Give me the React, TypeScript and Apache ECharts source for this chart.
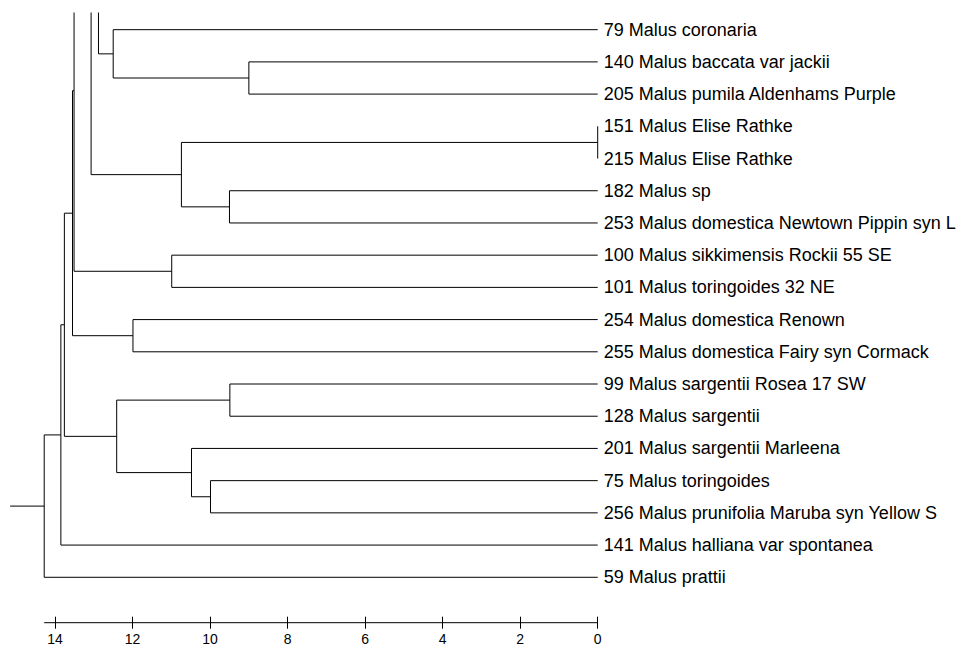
import React, { useEffect, useRef } from "react";
import * as echarts from "echarts";

const leafNames = [
  "79 Malus coronaria",
  "140 Malus baccata var jackii",
  "205 Malus pumila Aldenhams Purple",
  "151 Malus Elise Rathke",
  "215 Malus Elise Rathke",
  "182 Malus sp",
  "253 Malus domestica Newtown Pippin syn L",
  "100 Malus sikkimensis Rockii 55 SE",
  "101 Malus toringoides 32 NE",
  "254 Malus domestica Renown",
  "255 Malus domestica Fairy syn Cormack",
  "99 Malus sargentii Rosea 17 SW",
  "128 Malus sargentii",
  "201 Malus sargentii Marleena",
  "75 Malus toringoides",
  "256 Malus prunifolia Maruba syn Yellow S",
  "141 Malus halliana var spontanea",
  "59 Malus prattii",
];

// Branch of the tree lying above the visible crop (row position in leaf units, height)
const outsideRow = [-24.6];
const outsideHeight = [12.2];

// Merges: L<k> = leaf k, M<k> = merge k, U<k> = outside branch k
const mergeLeft = ["L1", "L0", "U0", "L3", "L5", "M3", "M2", "L7", "M6", "L9", "M8", "L11", "L14", "L13", "M11", "M10", "M15", "M16"];
const mergeRight = ["L2", "M0", "M1", "L4", "L6", "M4", "M5", "L8", "M7", "L10", "M9", "L12", "L15", "M12", "M13", "M14", "L16", "L17"];
const mergeHeight = [9.0, 12.5, 12.88, 0, 9.5, 10.74, 13.07, 10.99, 13.51, 11.99, 13.55, 9.49, 9.99, 10.48, 12.41, 13.76, 13.85, 14.28];

const tickMax = 14;
const tickStep = 2;

// layout (pixels / leaf rows)
const PX_PER_UNIT = 38.76;
const ZERO_X = 597.7;
const X_MAX = 15.16;
const Y_MIN = -0.518;
const Y_MAX = 18.41;
const FONT = "'Liberation Sans', Arial, Helvetica, sans-serif";

type Node = { row: number; h: number };

function buildSeries() {
  const nodes: Node[] = [];
  const resolve = (id: string): Node => {
    const kind = id[0];
    const k = Number(id.slice(1));
    if (kind === "L") return { row: k, h: 0 };
    if (kind === "U") return { row: outsideRow[k], h: outsideHeight[k] };
    return nodes[k];
  };
  const lineStyle = { color: "#000", width: 1 };
  const series: any[] = [];
  mergeHeight.forEach((h, k) => {
    const a = resolve(mergeLeft[k]);
    const b = resolve(mergeRight[k]);
    nodes.push({ row: (a.row + b.row) / 2, h });
    series.push({
      type: "line",
      xAxisIndex: 0,
      yAxisIndex: 0,
      data: [
        [a.h, a.row],
        [h, a.row],
        [h, b.row],
        [b.h, b.row],
      ],
      symbol: "none",
      lineStyle,
      silent: true,
      clip: true,
    });
  });
  const root = nodes[nodes.length - 1];
  series.push({
    type: "line",
    xAxisIndex: 0,
    yAxisIndex: 0,
    data: [
      [root.h, root.row],
      [X_MAX, root.row],
    ],
    symbol: "none",
    lineStyle,
    silent: true,
  });
  // axis line spanning 0 .. root height
  series.push({
    type: "line",
    xAxisIndex: 0,
    yAxisIndex: 0,
    data: [
      [0, Y_MAX],
      [root.h, Y_MAX],
    ],
    symbol: "none",
    lineStyle,
    silent: true,
    clip: false,
  });
  return series;
}

export default function App() {
  const ref = useRef<HTMLDivElement>(null);
  useEffect(() => {
    if (!ref.current) return;
    const chart = echarts.init(ref.current, undefined, { renderer: "svg" });
    const gridTop = 13;
    const gridBottom = 26.3;
    const gridRight = 963 - ZERO_X;
    chart.setOption({
      animation: false,
      backgroundColor: "#fff",
      grid: [
        { left: ZERO_X - X_MAX * PX_PER_UNIT, right: gridRight, top: gridTop, bottom: gridBottom },
        { left: ZERO_X - tickMax * PX_PER_UNIT, right: gridRight, top: 600, bottom: gridBottom },
      ],
      xAxis: [
        {
          type: "value",
          gridIndex: 0,
          min: 0,
          max: X_MAX,
          inverse: true,
          show: false,
          splitLine: { show: false },
        },
        {
          type: "value",
          gridIndex: 1,
          min: 0,
          max: tickMax,
          interval: tickStep,
          inverse: true,
          position: "bottom",
          offset: -6,
          axisLine: { show: false },
          splitLine: { show: false },
          axisTick: {
            show: true,
            length: 12,
            inside: false,
            lineStyle: { color: "#000", width: 1 },
          },
          axisLabel: {
            show: true,
            color: "#000",
            fontSize: 14,
            fontFamily: FONT,
            margin: 15,
            showMinLabel: true,
            showMaxLabel: true,
          },
        },
      ],
      yAxis: [
        {
          type: "value",
          gridIndex: 0,
          min: Y_MIN,
          max: Y_MAX,
          inverse: true,
          position: "right",
          axisLine: { show: false },
          axisTick: { show: false },
          splitLine: { show: false },
          axisLabel: {
            show: true,
            customValues: leafNames.map((_, i) => i),
            formatter: (v: number) => leafNames[Math.round(v)] ?? "",
            color: "#000",
            fontSize: 18,
            fontFamily: FONT,
            margin: 6,
            align: "left",
          },
        },
        {
          type: "value",
          gridIndex: 1,
          min: 0,
          max: 1,
          show: false,
          splitLine: { show: false },
        },
      ],
      series: buildSeries(),
    });
    return () => chart.dispose();
  }, []);
  return (
    <div
      ref={ref}
      style={{ position: "fixed", left: 0, top: 0, width: 963, height: 649, background: "#fff" }}
    />
  );
}
